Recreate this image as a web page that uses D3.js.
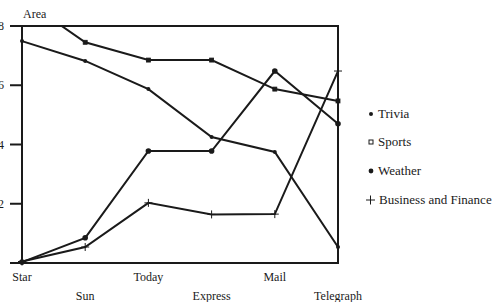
<!DOCTYPE html>
<html>
<head>
<meta charset="utf-8">
<script src="https://cdn.jsdelivr.net/npm/d3@7"></script>
<style>
  body { margin: 0; background: #fff; }
  text { font-family: "Liberation Serif", "DejaVu Serif", serif; fill: #1a1a1a; }
</style>
</head>
<body>
<script>
const categories = ["Star", "Sun", "Today", "Express", "Mail", "Telegraph"];
const trivia   = [7.49, 6.82, 5.87, 4.25, 3.75, 0.54];
const sports   = [8.93, 7.45, 6.85, 6.85, 5.87, 5.47];
const weather  = [0.03, 0.85, 3.78, 3.78, 6.48, 4.7];
const business = [0.05, 0.54, 2.03, 1.64, 1.65, 6.48];
const yTicks = [0, 2, 4, 6, 8];

const series = [
  { name: "Trivia", values: trivia, mark: "dot" },
  { name: "Sports", values: sports, mark: "square" },
  { name: "Weather", values: weather, mark: "bigdot" },
  { name: "Business and Finance", values: business, mark: "plus" }
];

let width = 500, height = 302,
    svg = d3.select("body").append("svg")
            .attr("width", width)
            .attr("height", height);

let x = d3.scalePoint().domain(categories).range([22, 338]),
    y = d3.scaleLinear().domain([0, 8]).range([263, 26]);

const ink = "#1a1a1a";

svg.append("clipPath").attr("id", "plot")
  .append("rect")
    .attr("x", 10).attr("y", 26)
    .attr("width", 340).attr("height", 240);

// frame
svg.append("path")
    .attr("d", `M10,${y(8)}H${x("Telegraph")}V${y(0)}H10`)
    .attr("fill", "none").attr("stroke", ink).attr("stroke-width", 2);
svg.append("line")
    .attr("x1", x("Star")).attr("x2", x("Star"))
    .attr("y1", y(8)).attr("y2", y(0))
    .attr("stroke", ink).attr("stroke-width", 2);

// y ticks (labels sit at the very left edge, as in the original)
svg.selectAll(".yt").data(yTicks).enter().append("line")
    .attr("x1", 10).attr("x2", x("Star"))
    .attr("y1", d => y(d)).attr("y2", d => y(d))
    .attr("stroke", ink).attr("stroke-width", 2);
svg.selectAll(".yl").data(yTicks.filter(d => d > 0)).enter().append("text")
    .attr("x", 4).attr("y", d => y(d) + 4)
    .attr("text-anchor", "end")
    .style("font-size", "12px")
    .text(d => d);

svg.append("text")
    .attr("x", 23).attr("y", 18)
    .style("font-size", "12px")
    .text("Area");

// x labels, staggered
svg.selectAll(".xl").data(categories).enter().append("text")
    .attr("x", d => x(d))
    .attr("y", (d, i) => i % 2 ? 300 : 281)
    .attr("text-anchor", "middle")
    .style("font-size", "12px")
    .text(d => d);

let line = d3.line()
    .x((d, i) => x(categories[i]))
    .y(d => y(d));

let plot = svg.append("g").attr("clip-path", "url(#plot)");

function marker(g, kind, cx, cy) {
  if (kind === "dot") {
    g.append("circle").attr("cx", cx).attr("cy", cy).attr("r", 2).attr("fill", ink);
  } else if (kind === "square") {
    g.append("rect").attr("x", cx - 2).attr("y", cy - 2)
      .attr("width", 4).attr("height", 4)
      .attr("fill", ink).attr("stroke", ink).attr("stroke-width", 0.8);
  } else if (kind === "bigdot") {
    g.append("circle").attr("cx", cx).attr("cy", cy).attr("r", 2.8).attr("fill", ink);
  } else {
    g.append("path").attr("d", `M${cx - 4},${cy}H${cx + 4}M${cx},${cy - 4}V${cy + 4}`)
      .attr("stroke", ink).attr("stroke-width", 1);
  }
}

series.forEach(s => {
  plot.append("path")
      .attr("d", line(s.values))
      .attr("fill", "none")
      .attr("stroke", ink)
      .attr("stroke-width", 2);
  s.values.forEach((v, i) => marker(plot, s.mark, x(categories[i]), y(v)));
});

// legend
let legendY = [118, 146, 175, 204];
series.forEach((s, i) => {
  let ly = legendY[i];
  if (s.mark === "square") {
    svg.append("rect").attr("x", 369).attr("y", ly - 6)
      .attr("width", 4).attr("height", 4)
      .attr("fill", "none").attr("stroke", ink).attr("stroke-width", 1);
  } else if (s.mark === "plus") {
    svg.append("path").attr("d", `M366,${ly - 4}H375M370.5,${ly - 8.5}V${ly + 0.5}`)
      .attr("stroke", ink).attr("stroke-width", 1);
  } else {
    svg.append("circle").attr("cx", 371).attr("cy", ly - 4)
      .attr("r", s.mark === "bigdot" ? 2.4 : 2).attr("fill", ink);
  }
  svg.append("text")
      .attr("x", s.mark === "plus" ? 379 : 378).attr("y", ly)
      .style("font-size", "13px")
      .text(s.name);
});
</script>
</body>
</html>
